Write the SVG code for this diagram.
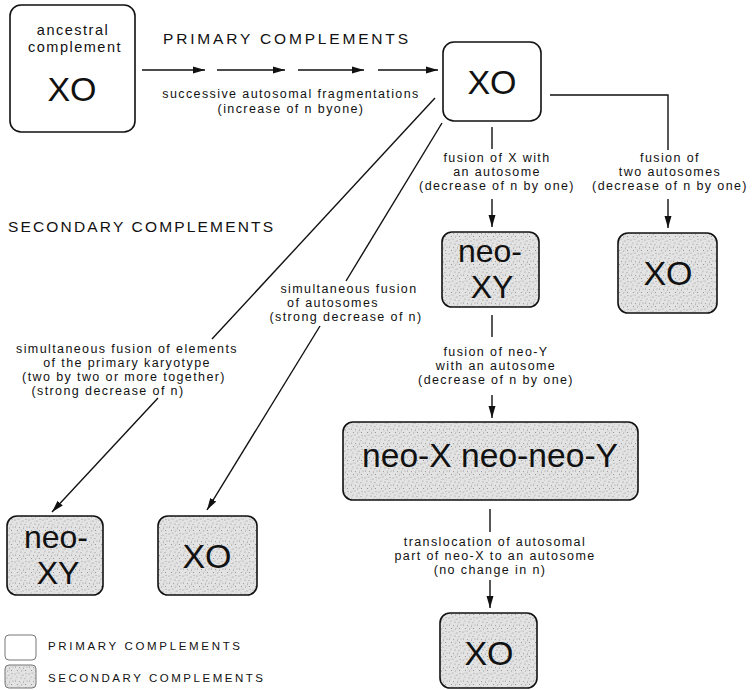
<svg xmlns="http://www.w3.org/2000/svg" width="756" height="690" viewBox="0 0 756 690">
<defs>
<style>
.box{stroke:#111;stroke-width:1.6;}
.prim{fill:#fff;}
.sec{fill:url(#stip);}
.big{font-family:"Liberation Sans",Arial,Helvetica,sans-serif;font-size:34px;fill:#111;text-anchor:middle;}
.big2{font-family:"Liberation Sans",Arial,Helvetica,sans-serif;font-size:32px;fill:#111;text-anchor:middle;}
.lbl{font-family:"Liberation Sans",Arial,Helvetica,sans-serif;font-size:12.5px;letter-spacing:1.4px;fill:#111;text-anchor:middle;}
.hdr{font-family:"Liberation Sans",Arial,Helvetica,sans-serif;font-size:15.5px;fill:#111;}
.leg{font-family:"Liberation Sans",Arial,Helvetica,sans-serif;font-size:11.5px;fill:#111;}
.anc{font-family:"Liberation Sans",Arial,Helvetica,sans-serif;font-size:14.5px;letter-spacing:1.5px;fill:#111;text-anchor:middle;}
.ln{stroke:#111;stroke-width:1.4;fill:none;}
.arr{stroke:#111;stroke-width:1.4;fill:none;marker-end:url(#ah);}
</style>
<marker id="ah" viewBox="0 0 12 8" refX="12" refY="4" markerWidth="12" markerHeight="8" markerUnits="userSpaceOnUse" orient="auto">
<path d="M0,0.5 L12,4 L0,7.5 z" fill="#111"/>
</marker>
<pattern id="stip" width="14" height="14" patternUnits="userSpaceOnUse">
<rect width="14" height="14" fill="#e3e3e3"/>
<g fill="#8a8a8a">
<circle cx="1" cy="2" r="0.6"/><circle cx="5" cy="1" r="0.5"/><circle cx="9" cy="3" r="0.6"/><circle cx="12" cy="1.5" r="0.5"/>
<circle cx="3" cy="5" r="0.5"/><circle cx="7" cy="6" r="0.6"/><circle cx="11" cy="6.5" r="0.5"/>
<circle cx="1.5" cy="9" r="0.6"/><circle cx="5.5" cy="9.5" r="0.5"/><circle cx="9.5" cy="10" r="0.6"/><circle cx="13" cy="9" r="0.5"/>
<circle cx="3.5" cy="12.5" r="0.6"/><circle cx="7.5" cy="13" r="0.5"/><circle cx="11.5" cy="12.5" r="0.6"/>
</g>
<g fill="#c4c4c4">
<circle cx="3" cy="1" r="0.6"/><circle cx="7" cy="3.5" r="0.6"/><circle cx="10" cy="8" r="0.6"/><circle cx="2" cy="7" r="0.6"/><circle cx="6" cy="11" r="0.6"/><circle cx="12.5" cy="4" r="0.6"/><circle cx="9" cy="12" r="0.6"/>
</g>
</pattern>
</defs>
<rect width="756" height="690" fill="#fff"/>

<!-- headers -->
<text class="hdr" x="163" y="44" textLength="245" lengthAdjust="spacing">PRIMARY COMPLEMENTS</text>
<text class="hdr" x="8" y="232" textLength="265" lengthAdjust="spacing">SECONDARY COMPLEMENTS</text>

<!-- connectors -->
<g id="connectors">
<path class="arr" d="M142,70 H205"/>
<path class="arr" d="M217,70 H285"/>
<path class="arr" d="M298,70 H364"/>
<path class="arr" d="M378,70 H438"/>
<text class="lbl" x="291" y="98">successive autosomal fragmentations</text>
<text class="lbl" x="291" y="113">(increase of n byone)</text>

<path class="ln" d="M492,127 V149"/>
<path class="arr" d="M492,199 V227"/>
<text class="lbl" x="497" y="162">fusion of X with</text>
<text class="lbl" x="497" y="176">an autosome</text>
<text class="lbl" x="497" y="190">(decrease of n by one)</text>

<path class="ln" d="M550,95 H668 V150"/>
<path class="arr" d="M668,199 V228"/>
<text class="lbl" x="670" y="162">fusion of</text>
<text class="lbl" x="670" y="176">two autosomes</text>
<text class="lbl" x="670" y="190">(decrease of n by one)</text>

<path class="ln" d="M492,315 V337"/>
<path class="arr" d="M492,395 V418"/>
<text class="lbl" x="496" y="356">fusion of neo-Y</text>
<text class="lbl" x="496" y="370">with an autosome</text>
<text class="lbl" x="496" y="384">(decrease of n by one)</text>

<path class="ln" d="M490,509 V532"/>
<path class="arr" d="M490,580 V608"/>
<text class="lbl" x="495" y="546">translocation of autosomal</text>
<text class="lbl" x="495" y="560">part of neo-X to an autosome</text>
<text class="lbl" x="490" y="574">(no change in n)</text>

<!-- diagonal A -->
<path class="ln" d="M435,98 L212,339"/>
<path class="arr" d="M158,398 L52,512"/>
<text class="lbl" x="127" y="353">simultaneous fusion of elements</text>
<text class="lbl" x="127" y="367">of the primary karyotype</text>
<text class="lbl" x="124" y="381">(two by two or more together)</text>
<text class="lbl" x="108" y="395">(strong decrease of n)</text>

<!-- diagonal B -->
<path class="ln" d="M442,123 L346,281"/>
<path class="arr" d="M320,326 L207,510"/>
<text class="lbl" x="349" y="293">simultaneous fusion</text>
<text class="lbl" x="333" y="307">of autosomes</text>
<text class="lbl" x="346" y="321">(strong decrease of n)</text>
</g>

<!-- nodes -->
<g id="ancestral">
<rect class="box prim" x="10" y="5" width="125" height="127" rx="11"/>
<text class="anc" x="73" y="35">ancestral</text>
<text class="anc" x="75" y="52">complement</text>
<text class="big" x="72" y="101">XO</text>
</g>
<g id="primary-xo">
<rect class="box prim" x="443" y="42" width="98" height="79" rx="11"/>
<text class="big" x="492" y="94">XO</text>
</g>
<g id="neo-xy-center">
<rect class="box sec" x="442" y="232" width="97" height="75" rx="10"/>
<text class="big2" x="490" y="262">neo-</text>
<text class="big2" x="492" y="298">XY</text>
</g>
<g id="xo-right">
<rect class="box sec" x="618" y="233" width="99" height="80" rx="10"/>
<text class="big" x="668" y="285">XO</text>
</g>
<g id="neo-x-neo-neo-y">
<rect class="box sec" x="343" y="422" width="295" height="78" rx="10"/>
<text class="big" x="490" y="467" textLength="256" lengthAdjust="spacingAndGlyphs">neo-X neo-neo-Y</text>
</g>
<g id="xo-bottom">
<rect class="box sec" x="440" y="613" width="97" height="75" rx="10"/>
<text class="big" x="489" y="665">XO</text>
</g>
<g id="neo-xy-left">
<rect class="box sec" x="7" y="516" width="96" height="79" rx="10"/>
<text class="big2" x="56" y="548">neo-</text>
<text class="big2" x="58" y="584">XY</text>
</g>
<g id="xo-left">
<rect class="box sec" x="158" y="516" width="99" height="79" rx="10"/>
<text class="big" x="207" y="568">XO</text>
</g>

<!-- legend -->
<g id="legend">
<rect x="5" y="635" width="31" height="25" rx="4" fill="#fff" stroke="#777" stroke-width="1"/>
<rect x="5" y="665" width="31" height="23" rx="4" fill="url(#stip)" stroke="#777" stroke-width="1"/>
<text class="leg" x="48" y="650" textLength="192" lengthAdjust="spacing">PRIMARY COMPLEMENTS</text>
<text class="leg" x="48" y="682" textLength="215" lengthAdjust="spacing">SECONDARY COMPLEMENTS</text>
</g>
</svg>
